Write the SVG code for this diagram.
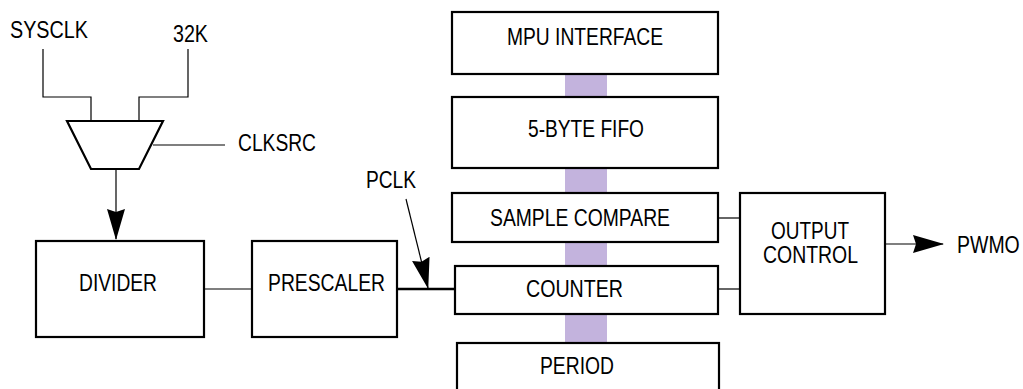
<svg xmlns="http://www.w3.org/2000/svg" width="1023" height="389" viewBox="0 0 1023 389">
<style>
text{font-family:"Liberation Sans",Arial,sans-serif;font-size:23.5px;fill:#000}
.box{fill:#fff;stroke:#000;stroke-width:2.2}
.w{fill:none;stroke:#000;stroke-width:1.2}
</style>
<defs>
<marker id="ah" markerUnits="userSpaceOnUse" markerWidth="32" markerHeight="20" viewBox="0 0 32 20" refX="30" refY="10" orient="auto">
<path d="M0,1 L31,10 L0,19 L3,10 Z" fill="#000"/>
</marker>
</defs>
<rect x="565" y="74" width="42" height="269" fill="#c3b3dd"/>
<g id="connectors">
<path class="w" d="M43,49 V97 H91 V121"/>
<path class="w" d="M188,49 V97 H139 V121"/>
<path class="w" d="M153,145 H225"/>
<path class="w" d="M116,169 V239" marker-end="url(#ah)"/>
<path class="w" d="M205,289 H255"/>
<path d="M397,289 H455" stroke="#000" stroke-width="2.6" fill="none"/>
<path class="w" d="M406,199 L428,288" marker-end="url(#ah)"/>
<path class="w" d="M718,218 H740"/>
<path class="w" d="M718,289 H740"/>
<path class="w" d="M885,244 H943" marker-end="url(#ah)"/>
</g>
<text x="10" y="38" textLength="78" lengthAdjust="spacingAndGlyphs">SYSCLK</text>
<text x="173" y="42" textLength="35" lengthAdjust="spacingAndGlyphs">32K</text>
<text x="238" y="151" textLength="78" lengthAdjust="spacingAndGlyphs">CLKSRC</text>
<text x="366" y="188" textLength="50" lengthAdjust="spacingAndGlyphs">PCLK</text>
<text transform="translate(957,253) scale(1,1.2)" x="0" y="0" style="font-size:19.5px">PWMO</text>
<g id="mux"><path class="box" d="M67,121 H163 L139,169 H91 Z" stroke-width="1.4"/></g>
<g id="divider"><rect class="box" x="36" y="241" width="168" height="96"/><text x="79" y="291" textLength="78" lengthAdjust="spacingAndGlyphs">DIVIDER</text></g>
<g id="prescaler"><rect class="box" x="252" y="241" width="145" height="96"/><text x="268" y="291" textLength="117" lengthAdjust="spacingAndGlyphs">PRESCALER</text></g>
<g id="mpu"><rect class="box" x="452" y="12" width="266" height="62"/><text x="507" y="45" textLength="156" lengthAdjust="spacingAndGlyphs">MPU INTERFACE</text></g>
<g id="fifo"><rect class="box" x="452" y="97" width="266" height="71"/><text x="528" y="137" textLength="116" lengthAdjust="spacingAndGlyphs">5-BYTE FIFO</text></g>
<g id="sample"><rect class="box" x="452" y="193" width="266" height="49"/><text x="490" y="226" textLength="180" lengthAdjust="spacingAndGlyphs">SAMPLE COMPARE</text></g>
<g id="counter"><rect class="box" x="455" y="266" width="263" height="48"/><text x="526" y="297" textLength="97" lengthAdjust="spacingAndGlyphs">COUNTER</text></g>
<g id="period"><rect class="box" x="457" y="343" width="262" height="60"/><text x="540" y="374" textLength="74" lengthAdjust="spacingAndGlyphs">PERIOD</text></g>
<g id="output"><rect class="box" x="740" y="193" width="145" height="121"/><text x="771" y="239" textLength="78" lengthAdjust="spacingAndGlyphs">OUTPUT</text><text x="763" y="263" textLength="95" lengthAdjust="spacingAndGlyphs">CONTROL</text></g>
</svg>
